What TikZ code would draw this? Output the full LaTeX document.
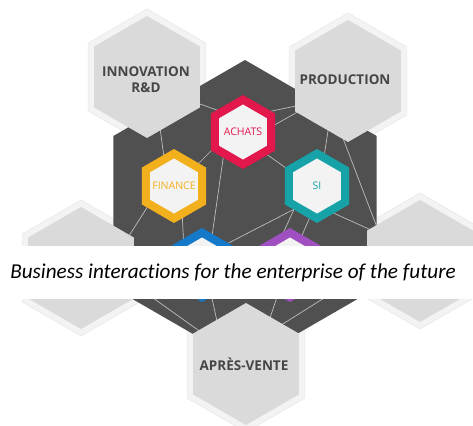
\documentclass[tikz,border=0pt]{standalone}
\usepackage{fontspec}
\setmainfont{Open Sans}
\newfontfamily\capfont[Ligatures=NoCommon]{Carlito}
\usetikzlibrary{shapes.geometric}
\definecolor{darkhex}{HTML}{505050}
\definecolor{hexgray}{HTML}{DADADA}
\definecolor{glowgray}{HTML}{F3F3F3}
\definecolor{glowline}{HTML}{E9E9E9}
\definecolor{graytext}{HTML}{454545}
\definecolor{linegray}{HTML}{BDBDBD}
\definecolor{innerwhite}{HTML}{F3F3F3}
\definecolor{achatscol}{HTML}{E2184C}
\definecolor{financecol}{HTML}{F2B01C}
\definecolor{sicol}{HTML}{17A2A7}
\definecolor{bluecol}{HTML}{1479C9}
\definecolor{purplecol}{HTML}{A04FC1}
\begin{document}
\begin{tikzpicture}[x=1pt,y=-1pt,
  hexshape/.style={regular polygon, regular polygon sides=6, rotate=30, inner sep=0pt, draw=none},
  glowhex/.style={hexshape, fill=glowgray, draw=glowline, line width=0.6pt, minimum size=136pt},
  grayhex/.style={hexshape, fill=hexgray, minimum size=122pt},
  bighex/.style={hexshape, fill=darkhex, minimum size=304pt},
  colhex/.style={hexshape, fill=#1, minimum size=74pt},
  innerhex/.style={hexshape, fill=innerwhite, minimum size=55pt},
  graylabel/.style={font=\bfseries\fontsize{13.5}{16}\selectfont, text=graytext, align=center, inner sep=0pt},
  collabel/.style={font=\fontsize{10.5}{12}\selectfont, text=#1, inner sep=0pt},
  link/.style={draw=linegray, line width=0.7pt},
]
\useasboundingbox[fill=white] (0,0) rectangle (473,425);
% glows
\node[glowhex] (innovG) at (147,77) {};
\node[glowhex] (prodG) at (348,81) {};
\node[glowhex] (leftG) at (81,268) {};
\node[glowhex] (rightG) at (420,261) {};
\node[glowhex] (apresG) at (246,364) {};
% dark hexagon
\node[bighex] (big) at (245,212) {};
% link ends
\coordinate (l1a) at (167,92.5);  \coordinate (l1b) at (237,117);
\coordinate (l2a) at (260,113.5); \coordinate (l2b) at (310,103);
\coordinate (l3a) at (262,132);   \coordinate (l3b) at (310,105);
\coordinate (l4a) at (159,120);   \coordinate (l4b) at (165,165);
\coordinate (l5a) at (190,172);   \coordinate (l5b) at (225,137);
\coordinate (l6a) at (225,145);   \coordinate (l6b) at (210,250);
\coordinate (l7a) at (255,146);   \coordinate (l7b) at (300,178);
\coordinate (l8a) at (330,118);   \coordinate (l8b) at (322,170);
\coordinate (l9a) at (336,120);   \coordinate (l9b) at (378,230);
\coordinate (l10a) at (320,207);  \coordinate (l10b) at (380,234);
\coordinate (l11a) at (310,201);  \coordinate (l11b) at (215,250);
\coordinate (l12a) at (296,205);  \coordinate (l12b) at (280,240);
\coordinate (l13a) at (313,210);  \coordinate (l13b) at (300,240);
\coordinate (l14a) at (155,195);  \coordinate (l14b) at (120,250);
\coordinate (l15a) at (182,210);  \coordinate (l15b) at (184,250);
\coordinate (l16a) at (125,278);  \coordinate (l16b) at (212,340);
\coordinate (l17a) at (208,280);  \coordinate (l17b) at (220,335);
\coordinate (l18a) at (281,285);  \coordinate (l18b) at (266,330);
\coordinate (l19a) at (372,268);  \coordinate (l19b) at (270,332);
\foreach \i in {1,...,19} {\draw[link] (l\i a) -- (l\i b);}
% gray hexagons
\node[grayhex] (innov) at (147,77) {};
\node[grayhex] (prod) at (348,81) {};
\node[grayhex] (lefthex) at (81,268) {};
\node[grayhex] (righthex) at (420,261) {};
\node[grayhex] (apres) at (246,364) {};
\node[graylabel] (innovT) at (146,80) {INNOVATION\\R\&D};
\node[graylabel] (prodT) at (345,80) {PRODUCTION};
\node[graylabel] (apresT) at (244,364) {APRÈS-VENTE};
% coloured hexagons
\node[colhex=achatscol] (achats) at (243,132) {};
\node[innerhex] (achatsI) at (243,132) {};
\node[collabel=achatscol] (achatsT) at (243,132) {ACHATS};
\node[colhex=financecol] (finance) at (174,186) {};
\node[innerhex] (financeI) at (174,186) {};
\node[collabel=financecol] (financeT) at (174,186) {FINANCE};
\node[colhex=sicol] (si) at (317,186) {};
\node[innerhex] (siI) at (317,186) {};
\node[collabel=sicol] (siT) at (317,186) {SI};
\node[colhex=bluecol] (bluehex) at (202,265) {};
\node[innerhex] (blueI) at (202,265) {};
\node[colhex=purplecol] (purplehex) at (290,265) {};
\node[innerhex] (purpleI) at (290,265) {};
% caption band
\node[fill=white, minimum width=473pt, minimum height=53pt, inner sep=0pt] (band) at (236.5,272.5) {};
\node[anchor=base, inner sep=0pt, font=\capfont\itshape\fontsize{21.2}{24}\selectfont] (caption) at (233,278) {Business interactions for the enterprise of the future};
\end{tikzpicture}
\end{document}
